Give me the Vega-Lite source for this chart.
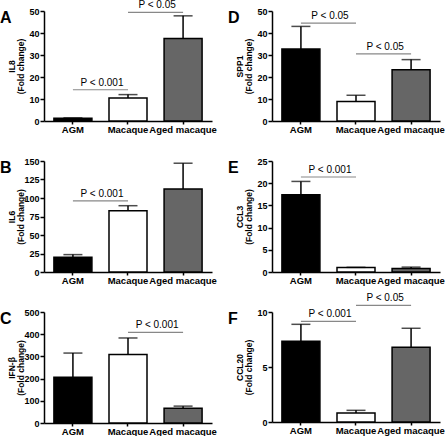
{
  "$schema": "https://vega.github.io/schema/vega-lite/v6.json",
  "padding": {"left": 0, "top": 0, "right": 0, "bottom": 0},
  "background": "white",
  "config": {
    "view": {"stroke": null},
    "axis": {"labelFont": "Liberation Sans", "labelFontWeight": "bold", "labelColor": "black", "domainColor": "black", "domainWidth": 1.5, "tickColor": "black", "tickWidth": 1.5, "tickSize": 4, "grid": false, "titleFont": "Liberation Sans", "titleFontWeight": "bold", "titleFontSize": 8.5, "titleColor": "black", "labelOverlap": false},
    "axisX": {"labelFontSize": 9.5, "labelAngle": 0, "tickSize": 3, "labelPadding": 0, "bandPosition": 0.5, "labelOverlap": false, "labelBound": false, "title": null},
    "axisY": {"labelFontSize": 9, "labelPadding": 1, "labelOverlap": false, "titleX": -28, "titleLineHeight": 9},
    "title": {"orient": "none", "anchor": "start", "frame": "group", "fontSize": 16, "fontWeight": "bold", "font": "Liberation Sans", "color": "black", "offset": 0, "dx": -44, "dy": -1, "baseline": "alphabetic", "align": "left"},
    "text": {"font": "Liberation Sans", "fontSize": 10, "color": "black"}
  },
  "datasets": {
    "bars": [
      {"panel": "A", "group": "AGM", "value": 1.2, "upper": 1.4},
      {"panel": "A", "group": "Macaque", "value": 10.5, "upper": 12.0},
      {"panel": "A", "group": "Aged macaque", "value": 37.5, "upper": 47.8},
      {"panel": "B", "group": "AGM", "value": 20, "upper": 23.5},
      {"panel": "B", "group": "Macaque", "value": 82.8, "upper": 89.6},
      {"panel": "B", "group": "Aged macaque", "value": 112, "upper": 147},
      {"panel": "C", "group": "AGM", "value": 206, "upper": 315},
      {"panel": "C", "group": "Macaque", "value": 308, "upper": 383},
      {"panel": "C", "group": "Aged macaque", "value": 66, "upper": 76},
      {"panel": "D", "group": "AGM", "value": 32.7, "upper": 43},
      {"panel": "D", "group": "Macaque", "value": 8.9, "upper": 11.7},
      {"panel": "D", "group": "Aged macaque", "value": 23.3, "upper": 27.9},
      {"panel": "E", "group": "AGM", "value": 17.4, "upper": 20.4},
      {"panel": "E", "group": "Macaque", "value": 1.0, "upper": 1.05},
      {"panel": "E", "group": "Aged macaque", "value": 0.8, "upper": 1.1},
      {"panel": "F", "group": "AGM", "value": 7.34, "upper": 8.88},
      {"panel": "F", "group": "Macaque", "value": 0.82, "upper": 1.06},
      {"panel": "F", "group": "Aged macaque", "value": 6.79, "upper": 8.52}
    ],
    "brackets": [
      {"panel": "A", "from": "AGM", "to": "Macaque", "y": 14.2, "label": "P < 0.001"},
      {"panel": "A", "from": "Macaque", "to": "Aged macaque", "y": 49.4, "label": "P < 0.05"},
      {"panel": "B", "from": "AGM", "to": "Macaque", "y": 96, "label": "P < 0.001"},
      {"panel": "C", "from": "Macaque", "to": "Aged macaque", "y": 408, "label": "P < 0.001"},
      {"panel": "D", "from": "AGM", "to": "Macaque", "y": 44.5, "label": "P < 0.05"},
      {"panel": "D", "from": "Macaque", "to": "Aged macaque", "y": 30.5, "label": "P < 0.05"},
      {"panel": "E", "from": "AGM", "to": "Macaque", "y": 21.4, "label": "P < 0.001"},
      {"panel": "F", "from": "AGM", "to": "Macaque", "y": 9.15, "label": "P < 0.001"},
      {"panel": "F", "from": "Macaque", "to": "Aged macaque", "y": 10.6, "label": "P < 0.05"}
    ]
  },
  "bounds": "flush",
  "columns": 2,
  "spacing": {"row": 40, "column": 60},
  "concat": [
    {
      "title": "A", "width": 168, "height": 110,
      "layer": [
        {"data": {"name": "bars"}, "transform": [{"filter": "datum.panel === 'A'"}], "mark": {"type": "bar", "stroke": "black", "strokeWidth": 1.5},
         "encoding": {"x": {"field": "group", "type": "nominal", "scale": {"type": "band", "domain": ["AGM", "Macaque", "Aged macaque"], "paddingInner": 0.31, "paddingOuter": 0.18}},
                      "y": {"field": "value", "type": "quantitative", "scale": {"domain": [0, 50], "nice": false}, "axis": {"values": [0, 10, 20, 30, 40, 50], "title": ["IL8", "(Fold change)"]}},
                      "fill": {"field": "group", "type": "nominal", "scale": {"domain": ["AGM", "Macaque", "Aged macaque"], "range": ["#000000", "#ffffff", "#666666"]}, "legend": null}}},
        {"data": {"name": "bars"}, "transform": [{"filter": "datum.panel === 'A'"}], "mark": {"type": "rule", "color": "black", "strokeWidth": 1.5},
         "encoding": {"x": {"field": "group", "type": "nominal"}, "y": {"field": "value", "type": "quantitative", "axis": {"values": [0, 10, 20, 30, 40, 50], "title": ["IL8", "(Fold change)"]}}, "y2": {"field": "upper"}}},
        {"data": {"name": "bars"}, "transform": [{"filter": "datum.panel === 'A'"}], "mark": {"type": "tick", "color": "black", "thickness": 1.5, "size": 19},
         "encoding": {"x": {"field": "group", "type": "nominal"}, "y": {"field": "upper", "type": "quantitative", "axis": {"values": [0, 10, 20, 30, 40, 50], "title": ["IL8", "(Fold change)"]}}}},
        {"data": {"name": "brackets"}, "transform": [{"filter": "datum.panel === 'A'"}], "mark": {"type": "rule", "color": "#888888", "strokeWidth": 1.2},
         "encoding": {"x": {"field": "from", "type": "nominal"}, "x2": {"field": "to"}, "y": {"field": "y", "type": "quantitative", "axis": {"values": [0, 10, 20, 30, 40, 50], "title": ["IL8", "(Fold change)"]}}}},
        {"data": {"name": "brackets"}, "transform": [{"filter": "datum.panel === 'A'"}], "mark": {"type": "text", "baseline": "bottom", "dy": -2, "dx": -7, "clip": false},
         "encoding": {"x": {"field": "to", "type": "nominal", "bandPosition": 0}, "y": {"field": "y", "type": "quantitative", "axis": {"values": [0, 10, 20, 30, 40, 50], "title": ["IL8", "(Fold change)"]}}, "text": {"field": "label"}}}
      ]
    },
    {
      "title": "D", "width": 168, "height": 110,
      "layer": [
        {"data": {"name": "bars"}, "transform": [{"filter": "datum.panel === 'D'"}], "mark": {"type": "bar", "stroke": "black", "strokeWidth": 1.5},
         "encoding": {"x": {"field": "group", "type": "nominal", "scale": {"type": "band", "domain": ["AGM", "Macaque", "Aged macaque"], "paddingInner": 0.31, "paddingOuter": 0.18}},
                      "y": {"field": "value", "type": "quantitative", "scale": {"domain": [0, 50], "nice": false}, "axis": {"values": [0, 10, 20, 30, 40, 50], "title": ["SPP1", "(Fold change)"]}},
                      "fill": {"field": "group", "type": "nominal", "scale": {"domain": ["AGM", "Macaque", "Aged macaque"], "range": ["#000000", "#ffffff", "#666666"]}, "legend": null}}},
        {"data": {"name": "bars"}, "transform": [{"filter": "datum.panel === 'D'"}], "mark": {"type": "rule", "color": "black", "strokeWidth": 1.5},
         "encoding": {"x": {"field": "group", "type": "nominal"}, "y": {"field": "value", "type": "quantitative", "axis": {"values": [0, 10, 20, 30, 40, 50], "title": ["SPP1", "(Fold change)"]}}, "y2": {"field": "upper"}}},
        {"data": {"name": "bars"}, "transform": [{"filter": "datum.panel === 'D'"}], "mark": {"type": "tick", "color": "black", "thickness": 1.5, "size": 19},
         "encoding": {"x": {"field": "group", "type": "nominal"}, "y": {"field": "upper", "type": "quantitative", "axis": {"values": [0, 10, 20, 30, 40, 50], "title": ["SPP1", "(Fold change)"]}}}},
        {"data": {"name": "brackets"}, "transform": [{"filter": "datum.panel === 'D'"}], "mark": {"type": "rule", "color": "#888888", "strokeWidth": 1.2},
         "encoding": {"x": {"field": "from", "type": "nominal"}, "x2": {"field": "to"}, "y": {"field": "y", "type": "quantitative", "axis": {"values": [0, 10, 20, 30, 40, 50], "title": ["SPP1", "(Fold change)"]}}}},
        {"data": {"name": "brackets"}, "transform": [{"filter": "datum.panel === 'D'"}], "mark": {"type": "text", "baseline": "bottom", "dy": -2, "dx": -7, "clip": false},
         "encoding": {"x": {"field": "to", "type": "nominal", "bandPosition": 0}, "y": {"field": "y", "type": "quantitative", "axis": {"values": [0, 10, 20, 30, 40, 50], "title": ["SPP1", "(Fold change)"]}}, "text": {"field": "label"}}}
      ]
    },
    {
      "title": "B", "width": 168, "height": 111,
      "layer": [
        {"data": {"name": "bars"}, "transform": [{"filter": "datum.panel === 'B'"}], "mark": {"type": "bar", "stroke": "black", "strokeWidth": 1.5},
         "encoding": {"x": {"field": "group", "type": "nominal", "scale": {"type": "band", "domain": ["AGM", "Macaque", "Aged macaque"], "paddingInner": 0.31, "paddingOuter": 0.18}},
                      "y": {"field": "value", "type": "quantitative", "scale": {"domain": [0, 150], "nice": false}, "axis": {"values": [0, 25, 50, 75, 100, 125, 150], "title": ["IL6", "(Fold change)"]}},
                      "fill": {"field": "group", "type": "nominal", "scale": {"domain": ["AGM", "Macaque", "Aged macaque"], "range": ["#000000", "#ffffff", "#666666"]}, "legend": null}}},
        {"data": {"name": "bars"}, "transform": [{"filter": "datum.panel === 'B'"}], "mark": {"type": "rule", "color": "black", "strokeWidth": 1.5},
         "encoding": {"x": {"field": "group", "type": "nominal"}, "y": {"field": "value", "type": "quantitative", "axis": {"values": [0, 25, 50, 75, 100, 125, 150], "title": ["IL6", "(Fold change)"]}}, "y2": {"field": "upper"}}},
        {"data": {"name": "bars"}, "transform": [{"filter": "datum.panel === 'B'"}], "mark": {"type": "tick", "color": "black", "thickness": 1.5, "size": 19},
         "encoding": {"x": {"field": "group", "type": "nominal"}, "y": {"field": "upper", "type": "quantitative", "axis": {"values": [0, 25, 50, 75, 100, 125, 150], "title": ["IL6", "(Fold change)"]}}}},
        {"data": {"name": "brackets"}, "transform": [{"filter": "datum.panel === 'B'"}], "mark": {"type": "rule", "color": "#888888", "strokeWidth": 1.2},
         "encoding": {"x": {"field": "from", "type": "nominal"}, "x2": {"field": "to"}, "y": {"field": "y", "type": "quantitative", "axis": {"values": [0, 25, 50, 75, 100, 125, 150], "title": ["IL6", "(Fold change)"]}}}},
        {"data": {"name": "brackets"}, "transform": [{"filter": "datum.panel === 'B'"}], "mark": {"type": "text", "baseline": "bottom", "dy": -2, "dx": -7, "clip": false},
         "encoding": {"x": {"field": "to", "type": "nominal", "bandPosition": 0}, "y": {"field": "y", "type": "quantitative", "axis": {"values": [0, 25, 50, 75, 100, 125, 150], "title": ["IL6", "(Fold change)"]}}, "text": {"field": "label"}}}
      ]
    },
    {
      "title": "E", "width": 168, "height": 111,
      "layer": [
        {"data": {"name": "bars"}, "transform": [{"filter": "datum.panel === 'E'"}], "mark": {"type": "bar", "stroke": "black", "strokeWidth": 1.5},
         "encoding": {"x": {"field": "group", "type": "nominal", "scale": {"type": "band", "domain": ["AGM", "Macaque", "Aged macaque"], "paddingInner": 0.31, "paddingOuter": 0.18}},
                      "y": {"field": "value", "type": "quantitative", "scale": {"domain": [0, 25], "nice": false}, "axis": {"values": [0, 5, 10, 15, 20, 25], "title": ["CCL3", "(Fold change)"]}},
                      "fill": {"field": "group", "type": "nominal", "scale": {"domain": ["AGM", "Macaque", "Aged macaque"], "range": ["#000000", "#ffffff", "#666666"]}, "legend": null}}},
        {"data": {"name": "bars"}, "transform": [{"filter": "datum.panel === 'E'"}], "mark": {"type": "rule", "color": "black", "strokeWidth": 1.5},
         "encoding": {"x": {"field": "group", "type": "nominal"}, "y": {"field": "value", "type": "quantitative", "axis": {"values": [0, 5, 10, 15, 20, 25], "title": ["CCL3", "(Fold change)"]}}, "y2": {"field": "upper"}}},
        {"data": {"name": "bars"}, "transform": [{"filter": "datum.panel === 'E'"}], "mark": {"type": "tick", "color": "black", "thickness": 1.5, "size": 19},
         "encoding": {"x": {"field": "group", "type": "nominal"}, "y": {"field": "upper", "type": "quantitative", "axis": {"values": [0, 5, 10, 15, 20, 25], "title": ["CCL3", "(Fold change)"]}}}},
        {"data": {"name": "brackets"}, "transform": [{"filter": "datum.panel === 'E'"}], "mark": {"type": "rule", "color": "#888888", "strokeWidth": 1.2},
         "encoding": {"x": {"field": "from", "type": "nominal"}, "x2": {"field": "to"}, "y": {"field": "y", "type": "quantitative", "axis": {"values": [0, 5, 10, 15, 20, 25], "title": ["CCL3", "(Fold change)"]}}}},
        {"data": {"name": "brackets"}, "transform": [{"filter": "datum.panel === 'E'"}], "mark": {"type": "text", "baseline": "bottom", "dy": -2, "dx": -7, "clip": false},
         "encoding": {"x": {"field": "to", "type": "nominal", "bandPosition": 0}, "y": {"field": "y", "type": "quantitative", "axis": {"values": [0, 5, 10, 15, 20, 25], "title": ["CCL3", "(Fold change)"]}}, "text": {"field": "label"}}}
      ]
    },
    {
      "title": "C", "width": 168, "height": 111,
      "layer": [
        {"data": {"name": "bars"}, "transform": [{"filter": "datum.panel === 'C'"}], "mark": {"type": "bar", "stroke": "black", "strokeWidth": 1.5},
         "encoding": {"x": {"field": "group", "type": "nominal", "scale": {"type": "band", "domain": ["AGM", "Macaque", "Aged macaque"], "paddingInner": 0.31, "paddingOuter": 0.18}},
                      "y": {"field": "value", "type": "quantitative", "scale": {"domain": [0, 500], "nice": false}, "axis": {"values": [0, 100, 200, 300, 400, 500], "title": ["IFN-β", "(Fold change)"]}},
                      "fill": {"field": "group", "type": "nominal", "scale": {"domain": ["AGM", "Macaque", "Aged macaque"], "range": ["#000000", "#ffffff", "#666666"]}, "legend": null}}},
        {"data": {"name": "bars"}, "transform": [{"filter": "datum.panel === 'C'"}], "mark": {"type": "rule", "color": "black", "strokeWidth": 1.5},
         "encoding": {"x": {"field": "group", "type": "nominal"}, "y": {"field": "value", "type": "quantitative", "axis": {"values": [0, 100, 200, 300, 400, 500], "title": ["IFN-β", "(Fold change)"]}}, "y2": {"field": "upper"}}},
        {"data": {"name": "bars"}, "transform": [{"filter": "datum.panel === 'C'"}], "mark": {"type": "tick", "color": "black", "thickness": 1.5, "size": 19},
         "encoding": {"x": {"field": "group", "type": "nominal"}, "y": {"field": "upper", "type": "quantitative", "axis": {"values": [0, 100, 200, 300, 400, 500], "title": ["IFN-β", "(Fold change)"]}}}},
        {"data": {"name": "brackets"}, "transform": [{"filter": "datum.panel === 'C'"}], "mark": {"type": "rule", "color": "#888888", "strokeWidth": 1.2},
         "encoding": {"x": {"field": "from", "type": "nominal"}, "x2": {"field": "to"}, "y": {"field": "y", "type": "quantitative", "axis": {"values": [0, 100, 200, 300, 400, 500], "title": ["IFN-β", "(Fold change)"]}}}},
        {"data": {"name": "brackets"}, "transform": [{"filter": "datum.panel === 'C'"}], "mark": {"type": "text", "baseline": "bottom", "dy": -2, "dx": -7, "clip": false},
         "encoding": {"x": {"field": "to", "type": "nominal", "bandPosition": 0}, "y": {"field": "y", "type": "quantitative", "axis": {"values": [0, 100, 200, 300, 400, 500], "title": ["IFN-β", "(Fold change)"]}}, "text": {"field": "label"}}}
      ]
    },
    {
      "title": "F", "width": 168, "height": 110,
      "layer": [
        {"data": {"name": "bars"}, "transform": [{"filter": "datum.panel === 'F'"}], "mark": {"type": "bar", "stroke": "black", "strokeWidth": 1.5},
         "encoding": {"x": {"field": "group", "type": "nominal", "scale": {"type": "band", "domain": ["AGM", "Macaque", "Aged macaque"], "paddingInner": 0.31, "paddingOuter": 0.18}},
                      "y": {"field": "value", "type": "quantitative", "scale": {"domain": [0, 10], "nice": false}, "axis": {"values": [0, 5, 10], "title": ["CCL20", "(Fold change)"]}},
                      "fill": {"field": "group", "type": "nominal", "scale": {"domain": ["AGM", "Macaque", "Aged macaque"], "range": ["#000000", "#ffffff", "#666666"]}, "legend": null}}},
        {"data": {"name": "bars"}, "transform": [{"filter": "datum.panel === 'F'"}], "mark": {"type": "rule", "color": "black", "strokeWidth": 1.5},
         "encoding": {"x": {"field": "group", "type": "nominal"}, "y": {"field": "value", "type": "quantitative", "axis": {"values": [0, 5, 10], "title": ["CCL20", "(Fold change)"]}}, "y2": {"field": "upper"}}},
        {"data": {"name": "bars"}, "transform": [{"filter": "datum.panel === 'F'"}], "mark": {"type": "tick", "color": "black", "thickness": 1.5, "size": 19},
         "encoding": {"x": {"field": "group", "type": "nominal"}, "y": {"field": "upper", "type": "quantitative", "axis": {"values": [0, 5, 10], "title": ["CCL20", "(Fold change)"]}}}},
        {"data": {"name": "brackets"}, "transform": [{"filter": "datum.panel === 'F'"}], "mark": {"type": "rule", "color": "#888888", "strokeWidth": 1.2},
         "encoding": {"x": {"field": "from", "type": "nominal"}, "x2": {"field": "to"}, "y": {"field": "y", "type": "quantitative", "axis": {"values": [0, 5, 10], "title": ["CCL20", "(Fold change)"]}}}},
        {"data": {"name": "brackets"}, "transform": [{"filter": "datum.panel === 'F'"}], "mark": {"type": "text", "baseline": "bottom", "dy": -2, "dx": -7, "clip": false},
         "encoding": {"x": {"field": "to", "type": "nominal", "bandPosition": 0}, "y": {"field": "y", "type": "quantitative", "axis": {"values": [0, 5, 10], "title": ["CCL20", "(Fold change)"]}}, "text": {"field": "label"}}}
      ]
    }
  ]
}
